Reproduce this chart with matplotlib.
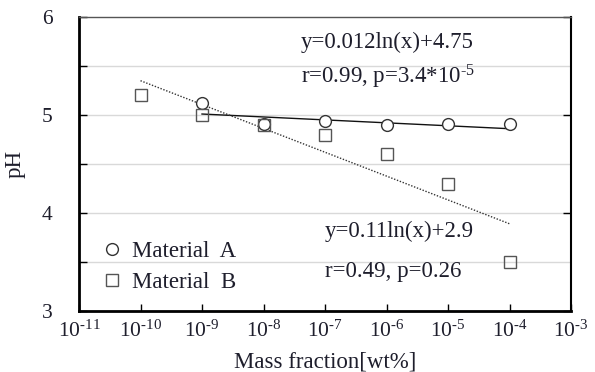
import matplotlib
matplotlib.use("Agg")
import matplotlib.pyplot as plt
import numpy as np
from matplotlib.ticker import FixedLocator, NullFormatter

# data
mass_a = [1e-9, 1e-8, 1e-7, 1e-6, 1e-5, 1e-4]
ph_a = [5.12, 4.91, 4.94, 4.90, 4.91, 4.91]
mass_b = [1e-10, 1e-9, 1e-8, 1e-7, 1e-6, 1e-5, 1e-4]
ph_b = [5.20, 5.00, 4.90, 4.80, 4.60, 4.30, 3.50]

# fitted trend lines (end points as drawn)
fit_a_x = [1e-9, 1e-4]
fit_a_y = [5.01, 4.86]
fit_b_x = [1e-10, 1e-4]
fit_b_y = [5.35, 3.89]

x_ticks = [1e-11, 1e-10, 1e-9, 1e-8, 1e-7, 1e-6, 1e-5, 1e-4, 1e-3]
x_exps = [11, 10, 9, 8, 7, 6, 5, 4, 3]
x_tick_labels = ["10$^{\\text{-}%d}$" % e for e in x_exps]
y_ticks = [3, 4, 5, 6]

plt.rcParams["font.family"] = ["Liberation Serif", "DejaVu Serif"]
plt.rcParams["mathtext.fontset"] = "custom"
plt.rcParams["mathtext.rm"] = "Liberation Serif"
plt.rcParams["mathtext.it"] = "Liberation Serif"

text_color = "#1e1e2c"
fs = 16.5

fig = plt.figure(figsize=(5.95, 3.72), dpi=100)
ax = fig.add_axes([79 / 595, 1 - 311 / 372, (571 - 79) / 595, (311 - 17) / 372])

ax.set_xscale("log")
ax.set_xlim(1e-11, 1e-3)
ax.set_ylim(3, 6)

# grid at every half unit
for g in [3.5, 4, 4.5, 5, 5.5]:
    ax.axhline(g, color="#d9d9d9", lw=1.0, zorder=0)

ax.plot(fit_a_x, fit_a_y, color="#111111", lw=1.0, zorder=2)
ax.plot(fit_b_x, fit_b_y, color="#333333", lw=1.0, ls=(0, (1, 1.2)), zorder=2)

ax.plot(mass_a, ph_a, ls="none", marker="o", ms=8.5, mfc="white",
        mec="#333333", mew=1.0, zorder=3, label="Material  A")
ax.plot(mass_b, ph_b, ls="none", marker="s", ms=8, mfc="none",
        mec="#555555", mew=1.0, zorder=3, label="Material  B")

ax.text(4e-8, 5.745, "y=0.012ln(x)+4.75", fontsize=fs, color=text_color, va="center")
ax.text(4e-8, 5.39, "r=0.99, p=3.4*10$^{\\text{-}5}$", fontsize=fs, color=text_color, va="center")
ax.text(1e-7, 3.81, "y=0.11ln(x)+2.9", fontsize=fs, color=text_color, va="center")
ax.text(1e-7, 3.40, "r=0.49, p=0.26", fontsize=fs, color=text_color, va="center")

ax.legend(loc="center left", bbox_to_anchor=(0.049, 0.15), frameon=False,
          fontsize=fs, handletextpad=0.47, labelspacing=0.42, handlelength=0.8,
          borderpad=0, borderaxespad=0, labelcolor=text_color)

ax.xaxis.set_major_locator(FixedLocator(x_ticks))
ax.xaxis.set_minor_locator(FixedLocator([]))
ax.set_xticklabels(x_tick_labels)
ax.set_yticks(y_ticks)
ax.yaxis.set_minor_locator(FixedLocator([3.5, 4.5, 5.5]))
ax.yaxis.set_minor_formatter(NullFormatter())

ax.tick_params(axis="x", which="major", direction="in", length=5, width=1,
               labelsize=15.5, labelcolor=text_color, pad=7)
ax.tick_params(axis="y", which="major", direction="in", length=6, width=1,
               right=True, labelsize=15.5, labelcolor=text_color, pad=19)
ax.tick_params(axis="y", which="minor", direction="in", length=6, width=1)

ax.spines["left"].set_linewidth(2)
ax.spines["bottom"].set_linewidth(2)
ax.spines["right"].set_linewidth(1.5)
ax.spines["top"].set_linewidth(1)
ax.spines["top"].set_color("#555555")

ax.set_xlabel("Mass fraction[wt%]", fontsize=fs, color=text_color, labelpad=7)
ax.set_ylabel("pH", fontsize=fs, color=text_color, labelpad=12)

fig.savefig("out.png", dpi=100)
